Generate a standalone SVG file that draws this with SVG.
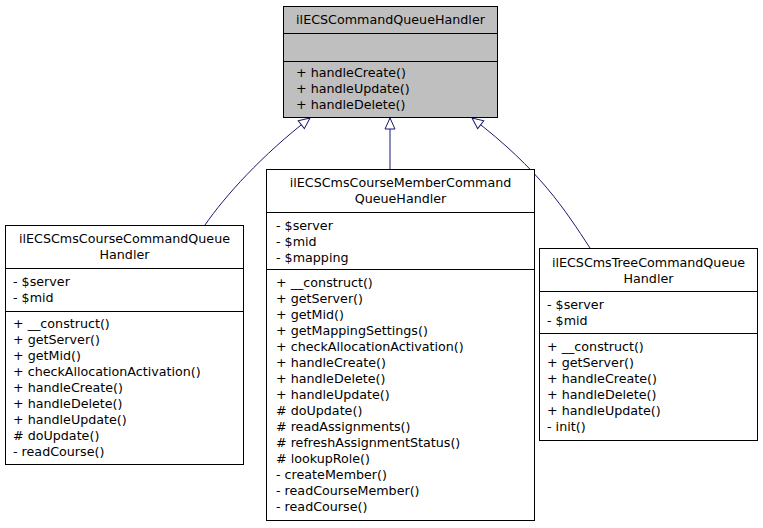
<svg xmlns="http://www.w3.org/2000/svg" width="763" height="528" viewBox="0 0 763 528">
<style>
  text { font-family: "DejaVu Sans", "Liberation Sans", sans-serif; font-size: 12.7px; fill: #000; }
  .c { text-anchor: middle; }
  .box { fill: #fff; stroke: #000; stroke-width: 1; }
  .base { fill: #bfbfbf; stroke: #000; stroke-width: 1; }
  .div { stroke: #000; stroke-width: 1; }
  .edge { fill: none; stroke: #191970; stroke-width: 1; }
</style>
<defs>
  <marker id="inh" markerUnits="userSpaceOnUse" markerWidth="14" markerHeight="14" refX="12" refY="6" orient="auto">
    <path d="M1,1 L12,6 L1,11 Z" fill="#fff" stroke="#191970" stroke-width="1"/>
  </marker>
</defs>
<rect width="763" height="528" fill="#fff"/>
<g id="connectors">
  <path class="edge" d="M205,225 C225,196 262,155 310,118" marker-end="url(#inh)"/>
  <path class="edge" d="M390,169 L390,118" marker-end="url(#inh)"/>
  <path class="edge" d="M590,248 C565,210 540,170 472,118" marker-end="url(#inh)"/>
</g>
<g id="ilECSCommandQueueHandler">
  <rect class="base" x="283.5" y="6.5" width="214" height="111"/>
  <line class="div" x1="283.5" y1="33.5" x2="497.5" y2="33.5"/>
  <line class="div" x1="283.5" y1="61.5" x2="497.5" y2="61.5"/>
  <text class="c" x="390.5" y="24">ilECSCommandQueueHandler</text>
  <text x="296" y="77">+ handleCreate()</text>
  <text x="296" y="93">+ handleUpdate()</text>
  <text x="296" y="109">+ handleDelete()</text>
</g>
<g id="ilECSCmsCourseCommandQueueHandler">
  <rect class="box" x="5.5" y="225.5" width="238" height="239"/>
  <line class="div" x1="5.5" y1="268.5" x2="243.5" y2="268.5"/>
  <line class="div" x1="5.5" y1="311.5" x2="243.5" y2="311.5"/>
  <text class="c" x="124.5" y="243">ilECSCmsCourseCommandQueue</text>
  <text class="c" x="124.5" y="259">Handler</text>
  <text x="13" y="286">- $server</text>
  <text x="13" y="302">- $mid</text>
  <text x="13" y="328">+ __construct()</text>
  <text x="13" y="344">+ getServer()</text>
  <text x="13" y="360">+ getMid()</text>
  <text x="13" y="376">+ checkAllocationActivation()</text>
  <text x="13" y="392">+ handleCreate()</text>
  <text x="13" y="408">+ handleDelete()</text>
  <text x="13" y="424">+ handleUpdate()</text>
  <text x="13" y="440"># doUpdate()</text>
  <text x="13" y="456">- readCourse()</text>
</g>
<g id="ilECSCmsCourseMemberCommandQueueHandler">
  <rect class="box" x="266.5" y="169.5" width="268" height="351"/>
  <line class="div" x1="266.5" y1="212.5" x2="534.5" y2="212.5"/>
  <line class="div" x1="266.5" y1="269.5" x2="534.5" y2="269.5"/>
  <text class="c" x="400.5" y="187">ilECSCmsCourseMemberCommand</text>
  <text class="c" x="400.5" y="203">QueueHandler</text>
  <text x="276" y="230">- $server</text>
  <text x="276" y="246">- $mid</text>
  <text x="276" y="262">- $mapping</text>
  <text x="276" y="287">+ __construct()</text>
  <text x="276" y="303">+ getServer()</text>
  <text x="276" y="319">+ getMid()</text>
  <text x="276" y="335">+ getMappingSettings()</text>
  <text x="276" y="351">+ checkAllocationActivation()</text>
  <text x="276" y="367">+ handleCreate()</text>
  <text x="276" y="383">+ handleDelete()</text>
  <text x="276" y="399">+ handleUpdate()</text>
  <text x="276" y="415"># doUpdate()</text>
  <text x="276" y="431"># readAssignments()</text>
  <text x="276" y="447"># refreshAssignmentStatus()</text>
  <text x="276" y="463"># lookupRole()</text>
  <text x="276" y="479">- createMember()</text>
  <text x="276" y="495">- readCourseMember()</text>
  <text x="276" y="511">- readCourse()</text>
</g>
<g id="ilECSCmsTreeCommandQueueHandler">
  <rect class="box" x="539.5" y="248.5" width="218" height="192"/>
  <line class="div" x1="539.5" y1="291.5" x2="757.5" y2="291.5"/>
  <line class="div" x1="539.5" y1="333.5" x2="757.5" y2="333.5"/>
  <text class="c" x="648.5" y="267">ilECSCmsTreeCommandQueue</text>
  <text class="c" x="648.5" y="283">Handler</text>
  <text x="547" y="309">- $server</text>
  <text x="547" y="325">- $mid</text>
  <text x="547" y="351">+ __construct()</text>
  <text x="547" y="367">+ getServer()</text>
  <text x="547" y="383">+ handleCreate()</text>
  <text x="547" y="399">+ handleDelete()</text>
  <text x="547" y="415">+ handleUpdate()</text>
  <text x="547" y="431">- init()</text>
</g>
</svg>
